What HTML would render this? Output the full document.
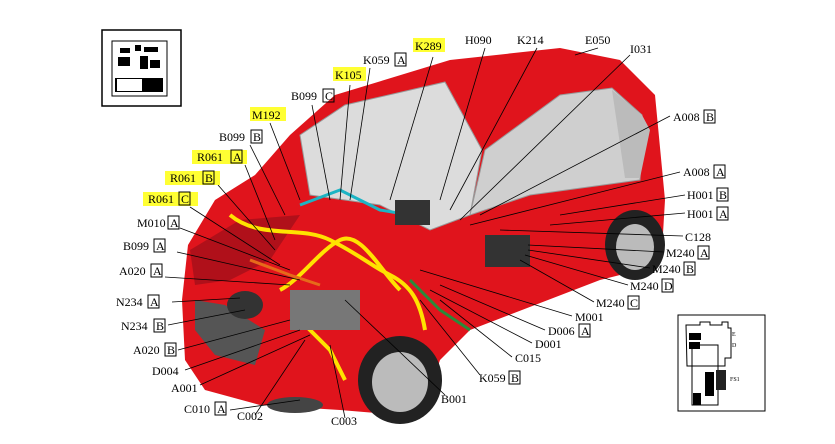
<!DOCTYPE html>
<html><head><meta charset="utf-8"><style>
body{margin:0;background:#fff}
svg{display:block}
text{font-family:"Liberation Serif",serif;font-size:12px;fill:#000}
.hl{fill:#ffff33}
.bx{fill:none;stroke:#000;stroke-width:1}
.ld{stroke:#000;stroke-width:0.8;fill:none}
</style></head><body>
<svg width="835" height="444" viewBox="0 0 835 444">
<rect x="102" y="30" width="79" height="76" fill="none" stroke="#000" stroke-width="1.5"/>
<rect x="112" y="41" width="55" height="55" fill="#fff" stroke="#000"/>
<g fill="#000">
<rect x="120" y="48" width="10" height="5"/><rect x="135" y="45" width="6" height="6"/><rect x="144" y="47" width="14" height="5"/>
<rect x="118" y="57" width="12" height="9"/><rect x="140" y="56" width="8" height="13"/><rect x="150" y="60" width="10" height="8"/>
<rect x="115" y="78" width="48" height="14"/>
</g>
<rect x="117" y="79" width="25" height="12" fill="#fff"/>
<rect x="678" y="315" width="87" height="96" fill="none" stroke="#000"/>
<path d="M686 325h14v-3h10v3h12v-3h6v6h3v30h-6v8h-38z" fill="none" stroke="#000"/>
<path d="M692 345h26v60h-26z" fill="none" stroke="#000"/>
<rect x="689" y="333" width="12" height="7" fill="#000"/><rect x="689" y="342" width="11" height="7" fill="#000"/>
<rect x="705" y="372" width="9" height="24" fill="#000"/><rect x="716" y="370" width="10" height="20" fill="#222"/>
<rect x="693" y="393" width="8" height="12" fill="#000"/>
<text x="732" y="336" style="font-size:6px">E</text><text x="732" y="347" style="font-size:6px">D</text><text x="730" y="381" style="font-size:6px">FS1</text>
<path d="M290 135 L335 95 L450 60 L560 48 L620 60 L655 95 L665 200 L662 250 L640 270 L600 280 L470 330 L440 360 L430 390 L400 415 L340 410 L260 405 L205 390 L185 360 L182 300 L188 245 L215 200 L255 175 Z" fill="#e0141c"/>
<path d="M190 250 L240 220 L300 215 L270 260 L230 280 L195 285Z" fill="#b0101a"/>
<path d="M300 135 L345 105 L445 82 L482 150 L470 215 L430 230 L380 205 L310 195 Z" fill="#dcdcdc" stroke="#999"/>
<path d="M485 150 L560 95 L612 88 L642 115 L640 180 L530 195 L470 215Z" fill="#cfcfcf" stroke="#999"/>
<path d="M612 90 L642 115 L650 130 L640 178 L625 178Z" fill="#bbb"/>
<path d="M195 300 L225 305 L265 330 L255 365 L215 355 L195 330Z" fill="#555"/>
<ellipse cx="245" cy="305" rx="18" ry="14" fill="#333"/>
<ellipse cx="295" cy="405" rx="28" ry="8" fill="#444"/>
<ellipse cx="400" cy="380" rx="42" ry="44" fill="#222"/><ellipse cx="400" cy="382" rx="28" ry="30" fill="#bbb"/>
<ellipse cx="635" cy="245" rx="30" ry="35" fill="#222"/><ellipse cx="635" cy="247" rx="19" ry="23" fill="#bbb"/>
<g fill="none" stroke-width="4">
<path d="M230 215 C260 240 300 225 330 240 S370 265 390 275 S420 300 425 330" stroke="#ffe200"/>
<path d="M280 290 C300 280 320 250 340 240 C360 230 380 270 400 290" stroke="#ffe200"/>
<path d="M300 320 L330 350 L345 380" stroke="#ffe200"/>
<path d="M300 205 L340 190 L380 210 L410 215" stroke="#1cb4c4" stroke-width="3"/>
<path d="M410 280 L440 310 L470 330" stroke="#2a8a3a" stroke-width="3"/>
<path d="M250 260 L290 275 L320 285" stroke="#e66a1a" stroke-width="3"/>
</g>
<rect x="290" y="290" width="70" height="40" fill="#777"/>
<rect x="485" y="235" width="45" height="32" fill="#333"/>
<rect x="395" y="200" width="35" height="25" fill="#333"/>
<g class="ld">
<path d="M433 57 L390 200"/><path d="M485 48 L440 200"/><path d="M537 48 L450 210"/><path d="M598 48 L575 55"/><path d="M630 55 L460 220"/>
<path d="M370 68 L350 200"/><path d="M350 85 L340 200"/><path d="M312 105 L330 200"/><path d="M270 123 L300 200"/><path d="M250 145 L285 215"/>
<path d="M245 165 L275 240"/><path d="M218 185 L275 250"/><path d="M190 207 L280 265"/><path d="M180 228 L290 270"/><path d="M177 252 L300 280"/>
<path d="M165 277 L290 285"/><path d="M172 302 L240 298"/><path d="M168 325 L245 310"/><path d="M178 350 L290 320"/><path d="M185 370 L300 330"/>
<path d="M200 385 L310 335"/><path d="M230 410 L300 400"/><path d="M255 415 L305 340"/><path d="M345 418 L330 345"/><path d="M445 395 L345 300"/>
<path d="M480 375 L420 300"/><path d="M512 357 L440 300"/><path d="M532 343 L430 290"/><path d="M545 330 L440 285"/><path d="M572 316 L420 270"/>
<path d="M594 302 L520 260"/><path d="M628 285 L525 255"/><path d="M650 268 L528 250"/><path d="M664 252 L528 245"/><path d="M683 236 L500 230"/>
<path d="M685 213 L550 225"/><path d="M685 195 L560 215"/><path d="M680 172 L470 225"/><path d="M670 116 L480 215"/>
</g>
<g>
<rect x="413" y="38" width="32" height="14" class="hl"/><text x="415" y="50">K289</text>
<text x="465" y="44">H090</text><text x="517" y="44">K214</text><text x="585" y="44">E050</text><text x="630" y="53">I031</text>
<text x="363" y="64">K059</text><rect x="395" y="53" width="11" height="13" class="bx"/><text x="397" y="64">A</text>
<rect x="333" y="67" width="33" height="14" class="hl"/><text x="335" y="79">K105</text>
<text x="291" y="100">B099</text><rect x="323" y="89" width="11" height="13" class="bx"/><text x="325" y="100">C</text>
<rect x="250" y="107" width="36" height="14" class="hl"/><text x="252" y="119">M192</text>
<text x="219" y="141">B099</text><rect x="251" y="130" width="11" height="13" class="bx"/><text x="253" y="141">B</text>
<rect x="192" y="150" width="55" height="14" class="hl"/><text x="197" y="161">R061</text><rect x="231" y="150" width="11" height="13" class="bx"/><text x="233" y="161">A</text>
<rect x="165" y="171" width="55" height="14" class="hl"/><text x="170" y="182">R061</text><rect x="203" y="171" width="11" height="13" class="bx"/><text x="205" y="182">B</text>
<rect x="143" y="192" width="55" height="14" class="hl"/><text x="148" y="203">R061</text><rect x="179" y="192" width="11" height="13" class="bx"/><text x="181" y="203">C</text>
<text x="137" y="227">M010</text><rect x="168" y="216" width="11" height="13" class="bx"/><text x="170" y="227">A</text>
<text x="123" y="250">B099</text><rect x="154" y="239" width="11" height="13" class="bx"/><text x="156" y="250">A</text>
<text x="119" y="275">A020</text><rect x="151" y="264" width="11" height="13" class="bx"/><text x="153" y="275">A</text>
<text x="116" y="306">N234</text><rect x="148" y="295" width="11" height="13" class="bx"/><text x="150" y="306">A</text>
<text x="121" y="330">N234</text><rect x="154" y="319" width="11" height="13" class="bx"/><text x="156" y="330">B</text>
<text x="133" y="354">A020</text><rect x="165" y="343" width="11" height="13" class="bx"/><text x="167" y="354">B</text>
<text x="152" y="375">D004</text><text x="171" y="392">A001</text>
<text x="184" y="413">C010</text><rect x="215" y="402" width="11" height="13" class="bx"/><text x="217" y="413">A</text>
<text x="237" y="420">C002</text><text x="331" y="425">C003</text><text x="441" y="403">B001</text>
<text x="479" y="382">K059</text><rect x="509" y="371" width="11" height="13" class="bx"/><text x="511" y="382">B</text>
<text x="515" y="362">C015</text><text x="535" y="348">D001</text>
<text x="548" y="335">D006</text><rect x="579" y="324" width="11" height="13" class="bx"/><text x="581" y="335">A</text>
<text x="575" y="321">M001</text>
<text x="596" y="307">M240</text><rect x="628" y="296" width="11" height="13" class="bx"/><text x="630" y="307">C</text>
<text x="630" y="290">M240</text><rect x="662" y="279" width="11" height="13" class="bx"/><text x="664" y="290">D</text>
<text x="652" y="273">M240</text><rect x="684" y="262" width="11" height="13" class="bx"/><text x="686" y="273">B</text>
<text x="666" y="257">M240</text><rect x="698" y="246" width="11" height="13" class="bx"/><text x="700" y="257">A</text>
<text x="685" y="241">C128</text>
<text x="687" y="218">H001</text><rect x="717" y="207" width="11" height="13" class="bx"/><text x="719" y="218">A</text>
<text x="687" y="199">H001</text><rect x="717" y="188" width="11" height="13" class="bx"/><text x="719" y="199">B</text>
<text x="683" y="176">A008</text><rect x="714" y="165" width="11" height="13" class="bx"/><text x="716" y="176">A</text>
<text x="673" y="121">A008</text><rect x="704" y="110" width="11" height="13" class="bx"/><text x="706" y="121">B</text>
</g>
</svg>
</body></html>
